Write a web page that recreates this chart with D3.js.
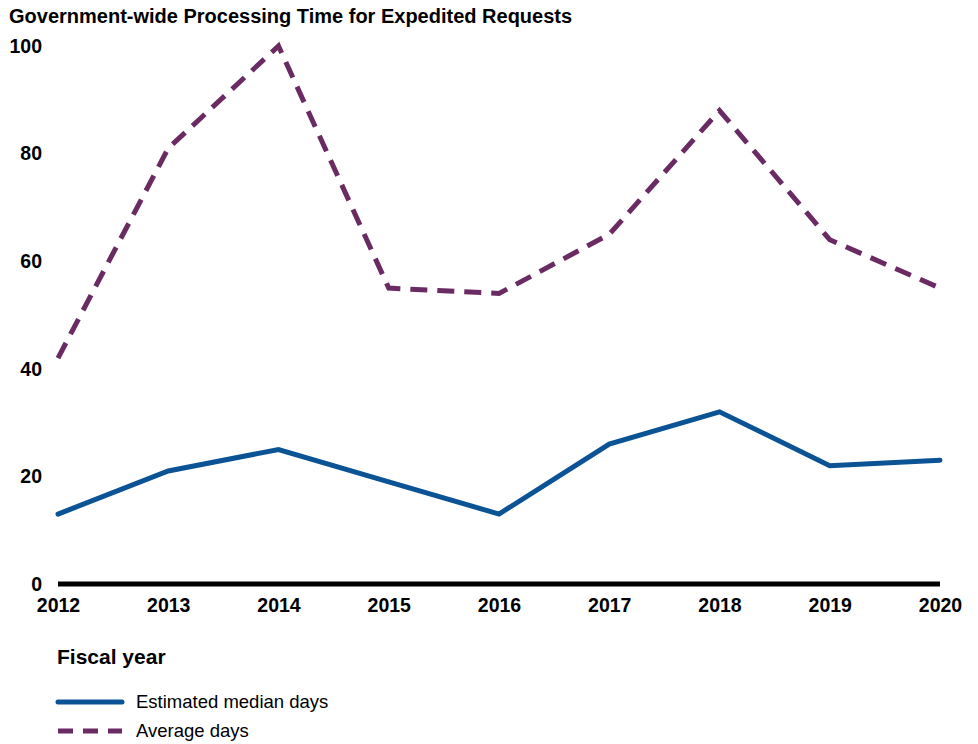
<!DOCTYPE html>
<html>
<head>
<meta charset="utf-8">
<script src="https://cdn.jsdelivr.net/npm/d3@7"></script>
<style>
  body { margin: 0; background: #fff; font-family: "Liberation Sans", Arial, sans-serif; }
</style>
</head>
<body>
<svg id="chart" width="978" height="744"></svg>
<script>
// data
const years = [2012, 2013, 2014, 2015, 2016, 2017, 2018, 2019, 2020];
const medianDays = [13, 21, 25, 19, 13, 26, 32, 22, 23];
const averageDays = [42, 81, 100, 55, 54, 65, 88, 64, 55];
const yTicks = [0, 20, 40, 60, 80, 100];
const seriesNames = ["Estimated median days", "Average days"];

const svg = d3.select("#chart");
const margin = { left: 58, right: 38, top: 46, bottom: 160 };
const width = 978 - margin.left - margin.right;
const height = 744 - margin.top - margin.bottom;

const blue = "#0b5394";
const purple = "#6a2b62";

const g = svg.append("g")
    .attr("transform", `translate(${margin.left}, ${margin.top})`);

const x = d3.scaleLinear().domain(d3.extent(years)).range([0, width]);
const y = d3.scaleLinear().domain([0, 100]).range([height, 0]);

// title
svg.append("text")
    .attr("x", 9)
    .attr("y", 23)
    .style("font-size", "20px")
    .style("font-weight", "bold")
    .text("Government-wide Processing Time for Expedited Requests");

// y axis: labels only
const yAxis = g.append("g")
    .call(d3.axisLeft(y).tickValues(yTicks).tickSize(0).tickPadding(16));
yAxis.select(".domain").remove();
yAxis.selectAll("text")
    .style("font-size", "19.5px")
    .style("font-weight", "bold")
    .style("font-family", "'Liberation Sans', Arial, sans-serif")
    .attr("fill", "#000");

// x axis: thick baseline + year labels
const xAxis = g.append("g")
    .attr("transform", `translate(0, ${height})`)
    .call(d3.axisBottom(x).tickValues(years).tickFormat(d3.format("d")).tickSize(0).tickPadding(14));
xAxis.select(".domain").remove();
xAxis.selectAll("text")
    .style("font-size", "19.5px")
    .style("font-weight", "bold")
    .style("font-family", "'Liberation Sans', Arial, sans-serif")
    .attr("fill", "#000");

g.append("line")
    .attr("x1", x(2012))
    .attr("x2", x(2020))
    .attr("y1", y(0))
    .attr("y2", y(0))
    .attr("stroke", "#000")
    .attr("stroke-width", 5);

const line = d3.line()
    .x((d, i) => x(years[i]))
    .y(d => y(d));

g.append("path")
    .datum(averageDays)
    .attr("d", line)
    .attr("fill", "none")
    .attr("stroke", purple)
    .attr("stroke-width", 5)
    .attr("stroke-dasharray", "17,10");

g.append("path")
    .datum(medianDays)
    .attr("d", line)
    .attr("fill", "none")
    .attr("stroke", blue)
    .attr("stroke-width", 5)
    .attr("stroke-linecap", "round");

// x axis title
svg.append("text")
    .attr("x", 57)
    .attr("y", 664)
    .style("font-size", "21px")
    .style("font-weight", "bold")
    .text("Fiscal year");

// legend
const legend = svg.append("g")
    .attr("transform", "translate(58, 702)");

const legendItems = [
  { name: seriesNames[0], color: blue, dash: null },
  { name: seriesNames[1], color: purple, dash: "15,10" }
];

const item = legend.selectAll(".legend-item")
    .data(legendItems)
    .join("g")
    .attr("class", "legend-item")
    .attr("transform", (d, i) => `translate(0, ${i * 29})`);

item.append("line")
    .attr("x1", 0)
    .attr("x2", 64)
    .attr("stroke", d => d.color)
    .attr("stroke-width", 5)
    .attr("stroke-linecap", d => d.dash ? "butt" : "round")
    .attr("stroke-dasharray", d => d.dash);

item.append("text")
    .attr("x", 78)
    .attr("dy", "0.35em")
    .style("font-size", "18.5px")
    .text(d => d.name);
</script>
</body>
</html>
